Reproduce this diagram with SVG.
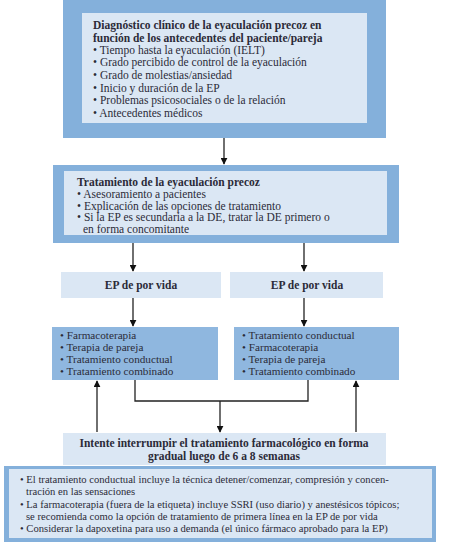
<svg xmlns="http://www.w3.org/2000/svg" width="464" height="547" viewBox="0 0 464 547">
<defs>
<style>
.outer{fill:#84b0db}
.inner{fill:#dbe7f4}
.mid{fill:#8fb7df}
.t{font-family:"Liberation Serif",serif;font-size:11.5px;fill:#2b2b38}
.s{font-size:11.2px}
.n{font-size:10.6px}
.b{font-weight:bold}
.c{text-anchor:middle}
.ln{stroke:#222;stroke-width:1.3;fill:none}
</style>
<marker id="ah" viewBox="0 0 10 10" refX="9" refY="5" markerWidth="7" markerHeight="7" orient="auto" markerUnits="userSpaceOnUse">
<path d="M0,0 L10,5 L0,10 z" fill="#111"/>
</marker>
</defs>
<rect width="464" height="547" fill="#fff"/>
<g id="diagnostico">
<rect class="outer" x="63" y="0" width="323" height="138"/>
<rect class="inner" x="82" y="13" width="285" height="110"/>
<text class="t b" x="93" y="29">Diagnóstico clínico de la eyaculación precoz en</text>
<text class="t b" x="93" y="42">función de los antecedentes del paciente/pareja</text>
<text class="t" x="93" y="54">• Tiempo hasta la eyaculación (IELT)</text>
<text class="t" x="93" y="66">• Grado percibido de control de la eyaculación</text>
<text class="t" x="93" y="79">• Grado de molestias/ansiedad</text>
<text class="t" x="93" y="92">• Inicio y duración de la EP</text>
<text class="t" x="93" y="104">• Problemas psicosociales o de la relación</text>
<text class="t" x="93" y="117">• Antecedentes médicos</text>
</g>
<g id="tratamiento">
<rect class="outer" x="53" y="165" width="346" height="78"/>
<rect class="inner" x="64" y="171" width="323" height="64"/>
<text class="t b" x="77" y="186">Tratamiento de la eyaculación precoz</text>
<text class="t" x="77" y="198">• Asesoramiento a pacientes</text>
<text class="t" x="77" y="210">• Explicación de las opciones de tratamiento</text>
<text class="t" x="77" y="221">• Si la EP es secundaria a la DE, tratar la DE primero o</text>
<text class="t" x="83" y="233">en forma concomitante</text>
</g>
<g id="ep-izq">
<rect class="inner" x="61" y="272" width="160" height="26"/>
<text class="t b c" x="141" y="289">EP de por vida</text>
</g>
<g id="ep-der">
<rect class="inner" x="230" y="272" width="153" height="26"/>
<text class="t b c" x="307" y="289">EP de por vida</text>
</g>
<g id="opciones-izq">
<rect class="mid" x="52" y="327" width="166" height="53"/>
<text class="t s" x="60" y="339">• Farmacoterapia</text>
<text class="t s" x="60" y="351">• Terapia de pareja</text>
<text class="t s" x="60" y="363">• Tratamiento conductual</text>
<text class="t s" x="60" y="375">• Tratamiento combinado</text>
</g>
<g id="opciones-der">
<rect class="mid" x="234" y="327" width="165" height="53"/>
<text class="t s" x="242" y="339">• Tratamiento conductual</text>
<text class="t s" x="242" y="351">• Farmacoterapia</text>
<text class="t s" x="242" y="363">• Terapia de pareja</text>
<text class="t s" x="242" y="375">• Tratamiento combinado</text>
</g>
<g id="intente">
<rect class="inner" x="63" y="433" width="323" height="32"/>
<text class="t b c" x="224" y="447">Intente interrumpir el tratamiento farmacológico en forma</text>
<text class="t b c" x="224" y="460">gradual luego de 6 a 8 semanas</text>
</g>
<g id="notas">
<rect class="outer" x="4" y="466" width="432" height="76"/>
<rect class="inner" x="9" y="469" width="423" height="69"/>
<text class="t n" x="20" y="483">• El tratamiento conductual incluye la técnica detener/comenzar, compresión y concen-</text>
<text class="t n" x="26" y="495">tración en las sensaciones</text>
<text class="t n" x="20" y="508">• La farmacoterapia (fuera de la etiqueta) incluye SSRI (uso diario) y anestésicos tópicos;</text>
<text class="t n" x="26" y="520">se recomienda como la opción de tratamiento de primera línea en la EP de por vida</text>
<text class="t n" x="20" y="532">• Considerar la dapoxetina para uso a demanda (el único fármaco aprobado para la EP)</text>
</g>
<g id="conectores">
<line class="ln" x1="224" y1="138" x2="224" y2="164" marker-end="url(#ah)"/>
<line class="ln" x1="133" y1="243" x2="133" y2="271" marker-end="url(#ah)"/>
<line class="ln" x1="304" y1="243" x2="304" y2="271" marker-end="url(#ah)"/>
<line class="ln" x1="133" y1="298" x2="133" y2="326" marker-end="url(#ah)"/>
<line class="ln" x1="304" y1="298" x2="304" y2="326" marker-end="url(#ah)"/>
<polyline class="ln" points="135,380 135,401 308,401 308,380"/>
<line class="ln" x1="220" y1="401" x2="220" y2="432" marker-end="url(#ah)"/>
<line class="ln" x1="97" y1="432" x2="97" y2="381" marker-end="url(#ah)"/>
<line class="ln" x1="356" y1="432" x2="356" y2="381" marker-end="url(#ah)"/>
</g>
</svg>
